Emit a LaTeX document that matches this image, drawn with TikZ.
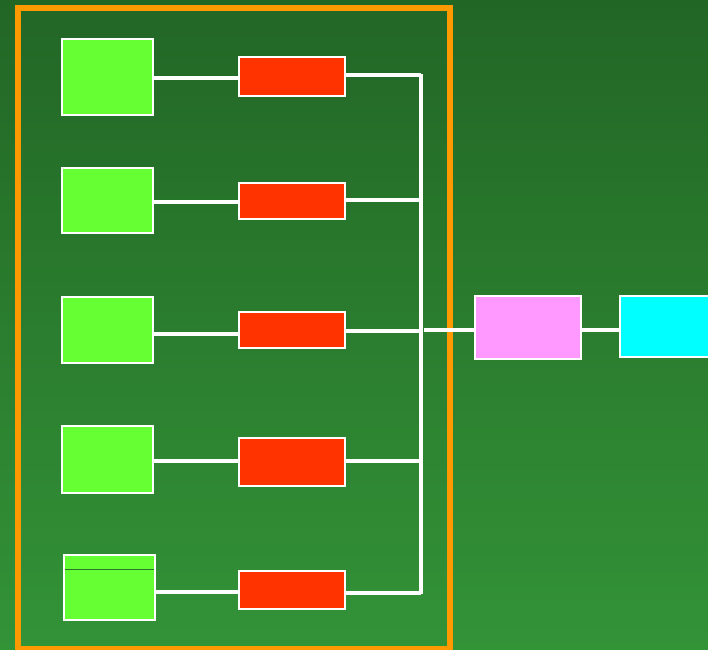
\documentclass[tikz,border=0pt]{standalone}
\definecolor{bgtop}{RGB}{34,102,38}
\definecolor{bgbot}{RGB}{51,147,55}
\definecolor{frameor}{RGB}{255,153,0}
\definecolor{srcgreen}{RGB}{102,255,51}
\definecolor{midred}{RGB}{255,51,0}
\definecolor{pinkbox}{RGB}{255,153,255}
\definecolor{cyanbox}{RGB}{0,255,255}
\definecolor{seam}{RGB}{40,120,40}
\begin{document}
\begin{tikzpicture}[x=0.75pt,y=-0.75pt,
  box/.style={draw=white,line width=2.2pt,inner sep=0pt},
  srcbox/.style={box,fill=srcgreen,minimum width=68.25pt},
  redbox/.style={box,fill=midred,minimum width=79.5pt},
  wire/.style={draw=white,line width=2.8pt}]
% background with vertical shading
\shade[top color=bgtop,bottom color=bgbot] (0,0) rectangle (708,650);
\useasboundingbox (0,0) rectangle (708,650);
% orange frame
\draw[frameor,line width=4.5pt] (18,7.5) rectangle (450,648.5);
% source boxes
\node[srcbox,minimum height=57pt]   (g1) at (107.5,77)    {};
\node[srcbox,minimum height=48.75pt](g2) at (107.5,200.5) {};
\node[srcbox,minimum height=49.5pt] (g3) at (107.5,330)   {};
\node[srcbox,minimum height=50.25pt](g4) at (107.5,459.5) {};
\node[srcbox,minimum height=48.75pt](g5) at (109.5,587.5) {};
\draw[seam,line width=0.7pt] ([xshift=1.6pt,yshift=-12pt]g5.north west) -- ([xshift=-1.6pt,yshift=-12pt]g5.north east);
% red boxes
\node[redbox,minimum height=29.25pt](r1) at (292,76.5) {};
\node[redbox,minimum height=27pt]   (r2) at (292,201)  {};
\node[redbox,minimum height=27pt]   (r3) at (292,330)  {};
\node[redbox,minimum height=36pt]   (r4) at (292,462)  {};
\node[redbox,minimum height=28.5pt] (r5) at (292,590)  {};
% right-hand boxes
\node[box,fill=pinkbox,minimum width=79.5pt,minimum height=47.25pt] (pk) at (528,327.5) {};
\node[box,fill=cyanbox,minimum width=69pt,minimum height=45.75pt]   (cy) at (666,326.5) {};
% collecting bus
\coordinate (bt) at (421,74);
\coordinate (bb) at (421,594);
% connectors: row / level into the red box / level out of it
\foreach \i/\a/\b in {1/78/75, 2/202/200, 3/334/331, 4/461/461, 5/592/593}{
  \draw[wire] (g\i.east |- 0,\a) -- (r\i.west |- 0,\a);
  \draw[wire] (r\i.east |- 0,\b) -- (bt |- 0,\b);
}
\draw[wire] (bt) -- (bb);
\draw[wire] ([xshift=2.25pt]bt |- 0,330) -- (pk.west |- 0,330);
\draw[wire] (pk.east |- 0,330) -- (cy.west |- 0,330);
\end{tikzpicture}
\end{document}
